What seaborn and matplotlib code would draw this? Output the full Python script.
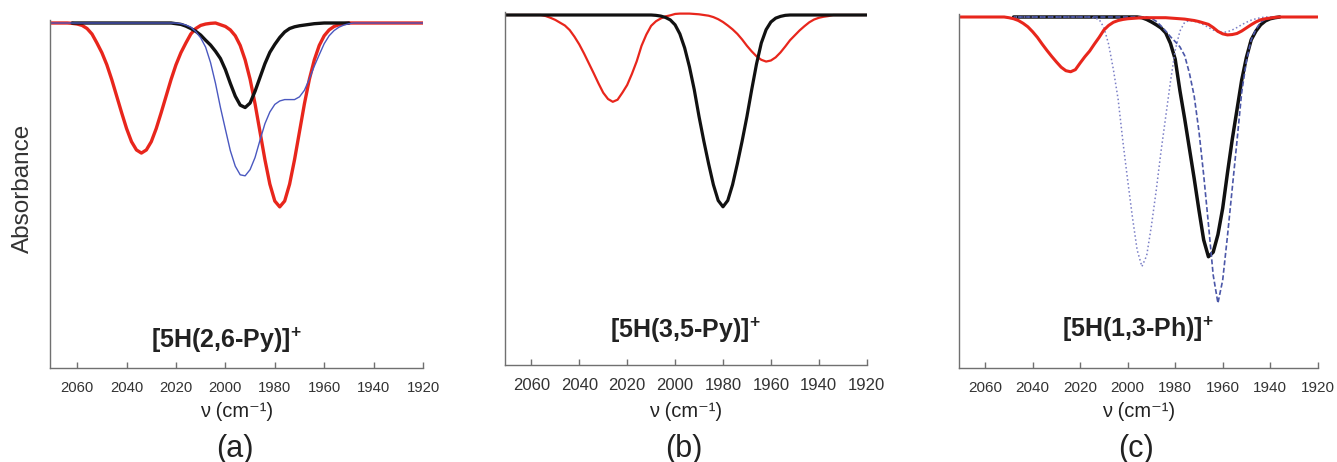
import numpy as np
import matplotlib
matplotlib.use("Agg")
import matplotlib.pyplot as plt
import seaborn as sns

nan = np.nan

# wavenumber grid (cm-1), shared by all spectra
wn = [2072, 2070, 2068, 2066, 2064, 2062, 2060, 2058, 2056, 2054,
      2052, 2050, 2048, 2046, 2044, 2042, 2040, 2038, 2036, 2034,
      2032, 2030, 2028, 2026, 2024, 2022, 2020, 2018, 2016, 2014,
      2012, 2010, 2008, 2006, 2004, 2002, 2000, 1998, 1996, 1994,
      1992, 1990, 1988, 1986, 1984, 1982, 1980, 1978, 1976, 1974,
      1972, 1970, 1968, 1966, 1964, 1962, 1960, 1958, 1956, 1954,
      1952, 1950, 1948, 1946, 1944, 1942, 1940, 1938, 1936, 1934,
      1932, 1930, 1928, 1926, 1924, 1922, 1920]

# (a) [5H(2,6-Py)]+  -- band depth (0 = baseline)
a_red = [0, 0, 0, 0, 0, .001, .003, .007, .016, .032,
         .058, .086, .121, .164, .212, .260, .306, .344, .368, .377,
         .368, .344, .306, .260, .212, .164, .121, .086, .058, .032,
         .016, .007, .003, .001, 0, .005, .010, .020, .037, .065,
         .107, .163, .234, .315, .396, .467, .516, .533, .516, .467,
         .396, .315, .234, .163, .107, .065, .037, .020, .010, .005,
         .002, 0, 0, 0, 0, 0, 0, 0, 0, 0,
         0, 0, 0, 0, 0, 0, 0]
a_black = [nan, nan, nan, nan, nan, 0, 0, 0, 0, 0,
           0, 0, 0, 0, 0, 0, 0, 0, 0, 0,
           0, 0, 0, 0, 0, 0, .002, .004, .009, .016,
           .024, .035, .050, .064, .082, .103, .135, .175, .212, .238,
           .245, .232, .198, .158, .118, .085, .062, .042, .026, .016,
           .011, .008, .006, .004, .002, .001, 0, 0, 0, 0,
           0, 0, nan, nan, nan, nan, nan, nan, nan, nan,
           nan, nan, nan, nan, nan, nan, nan]
a_blue = [0, 0, 0, 0, 0, 0, 0, 0, 0, 0,
          0, 0, 0, 0, 0, 0, 0, 0, 0, 0,
          0, 0, 0, 0, 0, 0, 0, .002, .006, .012,
          .025, .043, .070, .115, .175, .245, .308, .370, .415, .440,
          .443, .425, .390, .340, .292, .258, .236, .226, .222, .222,
          .222, .214, .195, .162, .125, .092, .060, .037, .022, .012,
          .006, .002, 0, 0, 0, 0, 0, 0, 0, 0,
          0, 0, 0, 0, 0, 0, 0]

# (b) [5H(3,5-Py)]+
b_black = [0, 0, 0, 0, 0, 0, 0, 0, 0, 0,
           0, 0, 0, 0, 0, 0, 0, 0, 0, 0,
           0, 0, 0, 0, 0, 0, 0, 0, 0, 0,
           0, 0, .001, .003, .007, .014, .028, .054, .094, .148,
           .213, .290, .360, .425, .485, .530, .548, .530, .485, .425,
           .360, .290, .213, .140, .080, .042, .020, .009, .004, .001,
           0, 0, 0, 0, 0, 0, 0, 0, 0, 0,
           0, 0, 0, 0, 0, 0, 0]
b_red = [0, 0, 0, 0, 0, 0, 0, 0, 0, .003,
         .008, .014, .022, .030, .043, .062, .084, .110, .138, .166,
         .195, .222, .240, .248, .242, .222, .200, .168, .132, .088,
         .056, .031, .018, .010, .004, .001, -.003, -.004, -.004, -.004,
         -.003, -.002, 0, .002, .006, .012, .020, .030, .041, .054,
         .070, .088, .104, .118, .128, .133, .130, .121, .107, .090,
         .072, .058, .044, .032, .021, .013, .008, .005, .003, 0,
         0, 0, 0, 0, 0, 0, 0]

# (c) [5H(1,3-Ph)]+
c_red = [0, 0, 0, 0, 0, 0, 0, 0, 0, 0,
         0, .002, .005, .010, .018, .028, .042, .058, .077, .095,
         .112, .128, .143, .153, .156, .150, .131, .113, .097, .077,
         .058, .037, .024, .015, .010, .007, .005, .004, .003, .002,
         .002, .002, .002, .002, .002, .003, .004, .005, .006, .008,
         .010, .013, .017, .021, .030, .041, .048, .051, .050, .047,
         .040, .031, .022, .014, .008, .005, .003, .001, 0, 0,
         0, 0, 0, 0, 0, 0, 0]
c_black = [nan, nan, nan, nan, nan, nan, nan, nan, nan, nan,
           nan, nan, 0, 0, 0, 0, 0, 0, 0, 0,
           0, 0, 0, 0, 0, 0, 0, 0, 0, 0,
           0, 0, 0, 0, 0, 0, 0, 0, 0, .002,
           .007, .014, .022, .031, .045, .075, .120, .210, .290, .375,
           .460, .550, .635, .683, .670, .620, .545, .445, .350, .265,
           .180, .115, .065, .040, .022, .011, .005, .002, 0, nan,
           nan, nan, nan, nan, nan, nan, nan]
c_dotted = [nan, nan, nan, nan, nan, nan, nan, nan, nan, nan,
            nan, nan, 0, 0, 0, 0, 0, 0, 0, 0,
            0, 0, 0, 0, 0, 0, 0, 0, 0, .003,
            .007, .030, .078, .150, .235, .355, .465, .570, .664, .711,
            .680, .595, .495, .385, .285, .185, .095, .040, .015, .010,
            .012, .016, .022, .030, .037, .042, .044, .042, .037, .030,
            .022, .015, .009, .005, .002, 0, 0, 0, 0, nan,
            nan, nan, nan, nan, nan, nan, nan]
c_dashed = [nan, nan, nan, nan, nan, nan, nan, nan, nan, nan,
            nan, nan, 0, 0, 0, 0, 0, 0, 0, 0,
            0, 0, 0, 0, 0, 0, 0, 0, 0, 0,
            0, 0, 0, 0, 0, 0, 0, 0, 0, 0,
            0, .004, .012, .025, .040, .056, .070, .085, .110, .160,
            .225, .325, .450, .590, .735, .815, .750, .625, .490, .355,
            .215, .125, .065, .035, .015, .006, .002, 0, 0, nan,
            nan, nan, nan, nan, nan, nan, nan]

tick_pos = [2060, 2040, 2020, 2000, 1980, 1960, 1940, 1920]
titles = [r"[5H(2,6-Py)]$^{+}$", r"[5H(3,5-Py)]$^{+}$", r"[5H(1,3-Ph)]$^{+}$"]
panel_tags = ["(a)", "(b)", "(c)"]

sns.set_style("white")
plt.rcParams["font.family"] = ["Liberation Sans", "DejaVu Sans"]
plt.rcParams["mathtext.default"] = "regular"

RED = "#e8261c"
BLK = "#111111"
BLUE = "#4a58c0"
TXT = "#222222"
SPINE = "#707070"

fig = plt.figure(figsize=(13.37, 4.62), dpi=100)
W, H = 1337.0, 462.0

# axes boxes in pixels: left, right, top, bottom, baseline
boxes = [(50, 423, 20, 368, 23),
         (505, 866.7, 12, 365, 15),
         (959, 1317.7, 14, 368, 17)]
tick_sizes = [10.7, 12, 11]
axes = []
for (l, r, t, b, base) in boxes:
    ax = fig.add_axes([l / W, 1 - b / H, (r - l) / W, (b - t) / H])
    top = -(base - t) / (b - base)
    ax.set_ylim(1.0, top)
    axes.append(ax)

ax_a, ax_b, ax_c = axes

sns.lineplot(x=wn, y=a_red, ax=ax_a, color=RED, lw=2.4)
sns.lineplot(x=wn, y=a_black, ax=ax_a, color=BLK, lw=2.4)
sns.lineplot(x=wn, y=a_blue, ax=ax_a, color=BLUE, lw=1.0)

sns.lineplot(x=wn, y=b_red, ax=ax_b, color=RED, lw=1.6)
sns.lineplot(x=wn, y=b_black, ax=ax_b, color=BLK, lw=2.3)

sns.lineplot(x=wn, y=c_black, ax=ax_c, color=BLK, lw=2.5)
sns.lineplot(x=wn, y=c_dotted, ax=ax_c, color="#7a7ec6", lw=1.1, linestyle=":")
sns.lineplot(x=wn, y=c_dashed, ax=ax_c, color="#4b57a8", lw=1.2, dashes=(3, 1.5))
sns.lineplot(x=wn, y=c_red, ax=ax_c, color=RED, lw=2.2)

for i, ax in enumerate(axes):
    l, r, t, b, base = boxes[i]
    ax.set_xlim(2071, 1920)
    ax.set_xticks(tick_pos)
    ax.set_xticklabels([str(v) for v in tick_pos])
    ax.set_yticks([])
    ax.set_xlabel("")
    ax.set_ylabel("")
    for s in ["top", "right"]:
        ax.spines[s].set_visible(False)
    for s in ["left", "bottom"]:
        ax.spines[s].set_color(SPINE)
        ax.spines[s].set_linewidth(1.0)
    ax.tick_params(axis="x", bottom=True, direction="in", length=4, width=1,
                   color=SPINE, labelsize=tick_sizes[i], labelcolor="#333333",
                   pad=9)
    cx = (l + r) / 2 / W
    fig.text(cx, 1 - 417 / H, "ν (cm⁻¹)", ha="center", va="baseline",
             fontsize=14.5, color=TXT)
    fig.text(cx - 2 / W, 1 - 457 / H, panel_tags[i], ha="center", va="baseline",
             fontsize=22, color=TXT)

# compound labels inside the panels
fig.text(226 / W, 1 - 348 / H, titles[0], ha="center", va="baseline",
         fontsize=18, fontweight="bold", color=TXT)
fig.text(685 / W, 1 - 338 / H, titles[1], ha="center", va="baseline",
         fontsize=18, fontweight="bold", color=TXT)
fig.text(1138 / W, 1 - 337 / H, titles[2], ha="center", va="baseline",
         fontsize=18, fontweight="bold", color=TXT)

fig.text(23 / W, 1 - 188 / H, "Absorbance", rotation=90, ha="center",
         va="center", fontsize=17.5, color="#333333")

fig.savefig("out.png", dpi=100, facecolor="white")
